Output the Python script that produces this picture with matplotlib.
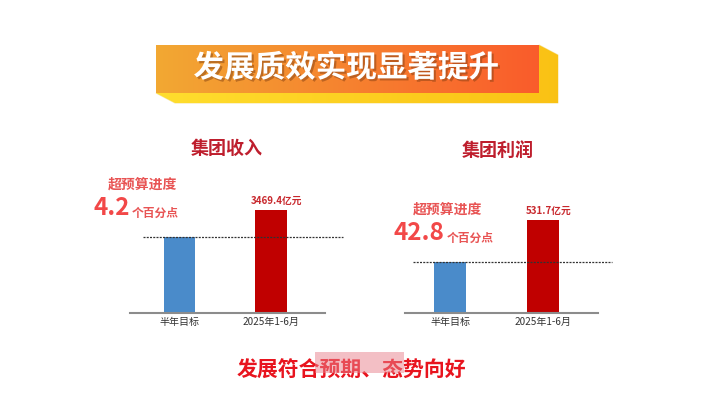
import numpy as np
import matplotlib
matplotlib.use('Agg')
import matplotlib.pyplot as plt
from matplotlib.patches import Polygon, Rectangle
import matplotlib.patheffects as pe

plt.rcParams['font.family'] = ['Noto Sans CJK SC', 'DejaVu Sans']

# data
categories = ['半年目标', '2025年1-6月']
revenue = [2560, 3469.4]      # 亿元, target bar
profit = [291.6, 531.7]       # 亿元
revenue_over = '4.2'
profit_over = '42.8'
value_labels = ['3469.4亿元', '531.7亿元']
chart_titles = ['集团收入', '集团利润']
bar_colors = ['#4A8BCA', '#C00000']

W, H = 724, 399
fig = plt.figure(figsize=(W / 100, H / 100), dpi=100)
fig.patch.set_facecolor('white')

# overlay axes in pixel units (y grows downward)
bg = fig.add_axes([0, 0, 1, 1])
bg.set_xlim(0, W)
bg.set_ylim(H, 0)
bg.axis('off')

# banner: yellow extrusion then orange gradient face
extr = Polygon([(539, 45), (558, 55), (558, 103), (175, 103), (156, 93), (539, 93)],
               closed=True, facecolor='none', edgecolor='#F7E7A8', lw=0.8, zorder=1)
bg.add_patch(extr)
ygrad = np.linspace(0, 1, 200)
ycols = np.array([(1.0, 0.87, 0.18), (0.98, 0.76, 0.08)])
yimg = (ycols[0][None, :] * (1 - ygrad[:, None]) + ycols[1][None, :] * ygrad[:, None])[None, :, :]
im = bg.imshow(yimg, extent=(156, 558, 103, 45), aspect='auto', zorder=1, interpolation='bilinear')
im.set_clip_path(extr)

ograd = np.linspace(0, 1, 200)
ocols = np.array([(0.95, 0.66, 0.2), (0.98, 0.36, 0.17)])
oimg = (ocols[0][None, :] * (1 - ograd[:, None]) + ocols[1][None, :] * ograd[:, None])[None, :, :]
bg.imshow(oimg, extent=(156, 539, 93, 45), aspect='auto', zorder=2, interpolation='bilinear')
bg.set_xlim(0, W)
bg.set_ylim(H, 0)

bg.text(346, 68, '发展质效实现显著提升', color='white', fontsize=22, fontweight='bold',
        ha='center', va='center', zorder=3,
        path_effects=[pe.withSimplePatchShadow(offset=(1.5, -1.5), shadow_rgbFace='#7a3a10', alpha=0.45)])

# chart titles and budget notes
title_col = '#BE1E2D'
note_col = '#E85454'
big_col = '#F24848'
bg.text(227, 148, chart_titles[0], color=title_col, fontsize=13, fontweight='bold', ha='center', va='center')
bg.text(498, 150, chart_titles[1], color=title_col, fontsize=13, fontweight='bold', ha='center', va='center')


def budget_note(cx, y_note, x_num, y_num, num):
    bg.text(cx, y_note, '超预算进度', color=note_col, fontsize=10, fontweight='bold', ha='center', va='center')
    t = bg.text(x_num, y_num, num, color=big_col, fontsize=17.5, fontweight='bold', ha='left', va='baseline')
    bg.annotate('个百分点', xy=(1, 0), xycoords=t, xytext=(1, 0), textcoords='offset points',
                color=note_col, fontsize=8.5, fontweight='bold', ha='left', va='bottom')


budget_note(142, 185, 94, 215, revenue_over)
budget_note(447, 210, 394, 240, profit_over)

# bottom line + watermark box
bg.text(351, 370, '发展符合预期、态势向好', color='#E8141E', fontsize=15, fontweight='bold',
        ha='center', va='center', zorder=3)
bg.add_patch(Rectangle((315, 352), 89, 21, facecolor='#E9818C', alpha=0.5, edgecolor='none', zorder=4))


def px_axes(x0, x1, y_top, y_base):
    return fig.add_axes([x0 / W, 1 - y_base / H, (x1 - x0) / W, (y_base - y_top) / H])


def bar_panel(ax, values, ymax, xlim, dash_span, label):
    x = np.arange(len(values))
    ax.bar(x, values, width=0.34, color=bar_colors, zorder=2)
    ax.set_xlim(*xlim)
    ax.set_ylim(0, ymax)
    ax.set_xticks(x)
    ax.set_xticklabels(categories, fontsize=7.2, color='#333333')
    ax.tick_params(axis='x', length=0, pad=3)
    ax.set_yticks([])
    for s in ['top', 'right', 'left']:
        ax.spines[s].set_visible(False)
    ax.spines['bottom'].set_color('#8C8C8C')
    ax.spines['bottom'].set_linewidth(1.5)
    ax.set_facecolor('none')
    ax.axhline(values[0], xmin=dash_span[0], xmax=dash_span[1], color='#333333',
               lw=0.9, ls=(0, (1.6, 1.0)), clip_on=False, zorder=3)
    ax.text(x[1] + 0.06, values[1] + ymax * 0.035, label, color='#C8282D', fontsize=7,
            fontweight='bold', ha='center', va='bottom')


ax1 = px_axes(130, 325, 200, 313)
bar_panel(ax1, revenue, 3800, (-0.54, 1.59), (0.067, 1.092), value_labels[0])

ax2 = px_axes(405, 598, 208, 313)
bar_panel(ax2, profit, 600, (-0.484, 1.59), (0.041, 1.073), value_labels[1])

fig.savefig('out.png', dpi=100, facecolor='white')
